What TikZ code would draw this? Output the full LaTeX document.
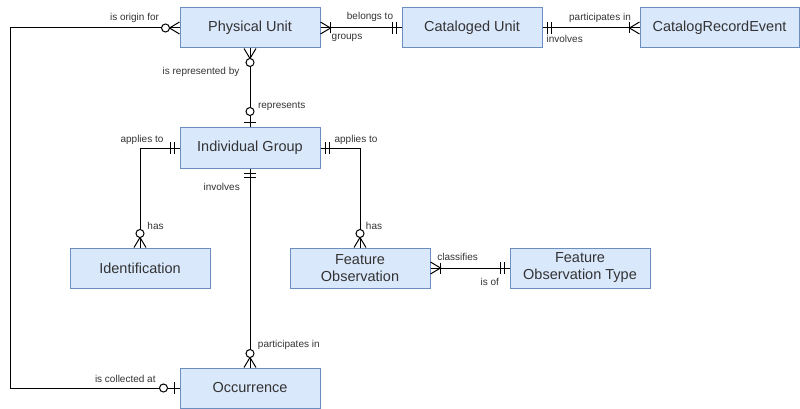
\documentclass[tikz,border=0pt]{standalone}
\usepackage{fontspec}
\setmainfont{Liberation Sans}
\definecolor{boxfill}{HTML}{DAE8FC}
\definecolor{boxdraw}{HTML}{6C8EBF}
\definecolor{txt}{HTML}{333333}
\tikzset{
  entity/.style={draw=boxdraw, fill=boxfill, line width=1pt, minimum width=140pt, minimum height=40pt, inner sep=0pt, align=center, text=txt, font=\fontsize{14.5}{17}\selectfont},
  lbl/.style={text=txt, font=\fontsize{10}{12}\selectfont, inner sep=0pt},
  conn/.style={line width=1pt, black},
  pics/zmany/.style={code={
    \draw[conn] (0,6) -- (10,0) -- (0,-6);
    \draw[conn, fill=white] (14,0) circle (4pt);}},
  pics/omany/.style={code={
    \draw[conn] (0,6) -- (10,0) -- (0,-6);
    \draw[conn] (10,5.5) -- (10,-5.5);}},
  pics/mone/.style={code={
    \draw[conn] (5,6) -- (5,-6);
    \draw[conn] (9,6) -- (9,-6);}},
  pics/zone/.style={code={
    \draw[conn] (5,6) -- (5,-6);
    \draw[conn, fill=white] (16,0) circle (4pt);}}
}
\begin{document}
\begin{tikzpicture}[x=1pt, y=-1pt]
\useasboundingbox (0,0) rectangle (800,409);
% entities
\node[entity] (pu) at (250,28) {Physical Unit};
\node[entity] (cu) at (472,28) {Cataloged Unit};
\node[entity, minimum width=159pt] (cre) at (719.5,28) {CatalogRecordEvent};
\node[entity] (ig) at (250,148) {Individual Group};
\node[entity] (ident) at (140,268) {Identification};
\node[entity] (fo) at (360,268) {Feature\\Observation};
\node[entity] (fot) at (580,268) {Feature\\Observation Type};
\node[entity] (occ) at (250,388) {Occurrence};
% helper corners
\coordinate (lt) at (10,28);
\coordinate (lb) at (10,388);
% connectors
\draw[conn] (pu.west) -- (lt) -- (lb) -- (occ.west);
\draw[conn] (pu.east) -- (cu.west);
\draw[conn] (cu.east) -- (cre.west);
\draw[conn] (pu.south) -- (ig.north);
\draw[conn] (ig.west) -| (ident.north);
\draw[conn] (ig.east) -| (fo.north);
\draw[conn] (ig.south) -- (occ.north);
\draw[conn] (fo.east) -- (fot.west);
% end markers
\pic[rotate=180] at (pu.west) {zmany};
\pic at (pu.east) {omany};
\pic[rotate=-90] at (pu.south) {zmany};
\pic[rotate=180] at (cu.west) {mone};
\pic at (cu.east) {mone};
\pic[rotate=180] at (cre.west) {omany};
\pic[rotate=90] at (ig.north) {zone};
\pic[rotate=180] at (ig.west) {mone};
\pic at (ig.east) {mone};
\pic[rotate=-90] at (ig.south) {mone};
\pic[rotate=90] at (ident.north) {zmany};
\pic[rotate=90] at (fo.north) {zmany};
\pic at (fo.east) {omany};
\pic[rotate=180] at (fot.west) {mone};
\pic[rotate=90] at (occ.north) {zmany};
\pic[rotate=180] at (occ.west) {zone};
% labels
\node[lbl] (l1) at (134.5,18) {is origin for};
\node[lbl] (l2) at (125.3,379) {is collected at};
\node[lbl] (l3) at (370,17) {belongs to};
\node[lbl] (l4) at (347,38) {groups};
\node[lbl] (l5) at (600,18) {participates in};
\node[lbl] (l6) at (564.7,39) {involves};
\node[lbl] (l7) at (201,71.5) {is represented by};
\node[lbl] (l8) at (281.7,106) {represents};
\node[lbl] (l9) at (142,139.5) {applies to};
\node[lbl] (l10) at (356,139.5) {applies to};
\node[lbl] (l11) at (155.5,226) {has};
\node[lbl] (l12) at (374,226) {has};
\node[lbl] (l13) at (221.7,187) {involves};
\node[lbl] (l14) at (288.8,345) {participates in};
\node[lbl] (l15) at (457.6,257) {classifies};
\node[lbl] (l16) at (489.8,282) {is of};
\end{tikzpicture}
\end{document}
